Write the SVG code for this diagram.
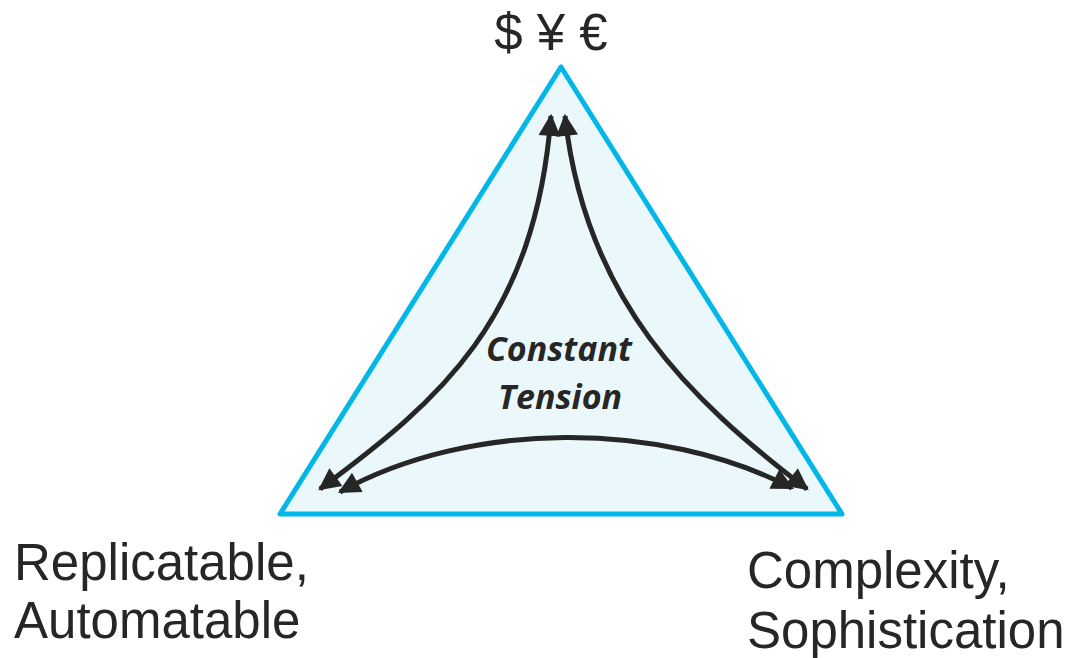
<svg xmlns="http://www.w3.org/2000/svg" width="1072" height="658" viewBox="0 0 1072 658">
<defs>
<marker id="ah" viewBox="0 0 10 10" refX="9" refY="5" markerWidth="5.2" markerHeight="4.4" orient="auto-start-reverse" markerUnits="strokeWidth">
<path d="M0,0 L10,5 L0,10 z" fill="#262626"/>
</marker>
<style>
.lbl{font-family:"Liberation Sans",Arial,sans-serif;font-size:51px;fill:#262626}
.ct{font-family:"Open Sans","Liberation Sans",sans-serif;font-weight:bold;font-style:italic;font-size:34px;fill:#262626;text-anchor:middle}
.arr{fill:none;stroke:#262626;stroke-width:5;marker-start:url(#ah);marker-end:url(#ah)}
</style>
</defs>
<rect width="1072" height="658" fill="#fff"/>
<g id="triangle">
<polygon points="561,67 280,514 842,514" fill="#EAF7FB" stroke="#00B7E8" stroke-width="5" stroke-linejoin="round"/>
</g>
<g id="connectors">
<path class="arr" d="M320,489 C440,400 535,320 551,116"/>
<path class="arr" d="M565,116 C585,300 690,400 807,489"/>
<path class="arr" d="M340,492 C470,420 660,420 792,488"/>
</g>
<g id="center"><text class="ct" x="559" y="361">Constant</text><text class="ct" x="560" y="409">Tension</text></g>
<g id="top"><text class="lbl" x="551" y="50" text-anchor="middle" font-size="48">$ ¥ €</text></g>
<g id="left"><text class="lbl" x="14" y="580">Replicatable,</text><text class="lbl" x="14" y="638">Automatable</text></g>
<g id="right"><text class="lbl" x="747" y="588">Complexity,</text><text class="lbl" x="747" y="648">Sophistication</text></g>
</svg>
